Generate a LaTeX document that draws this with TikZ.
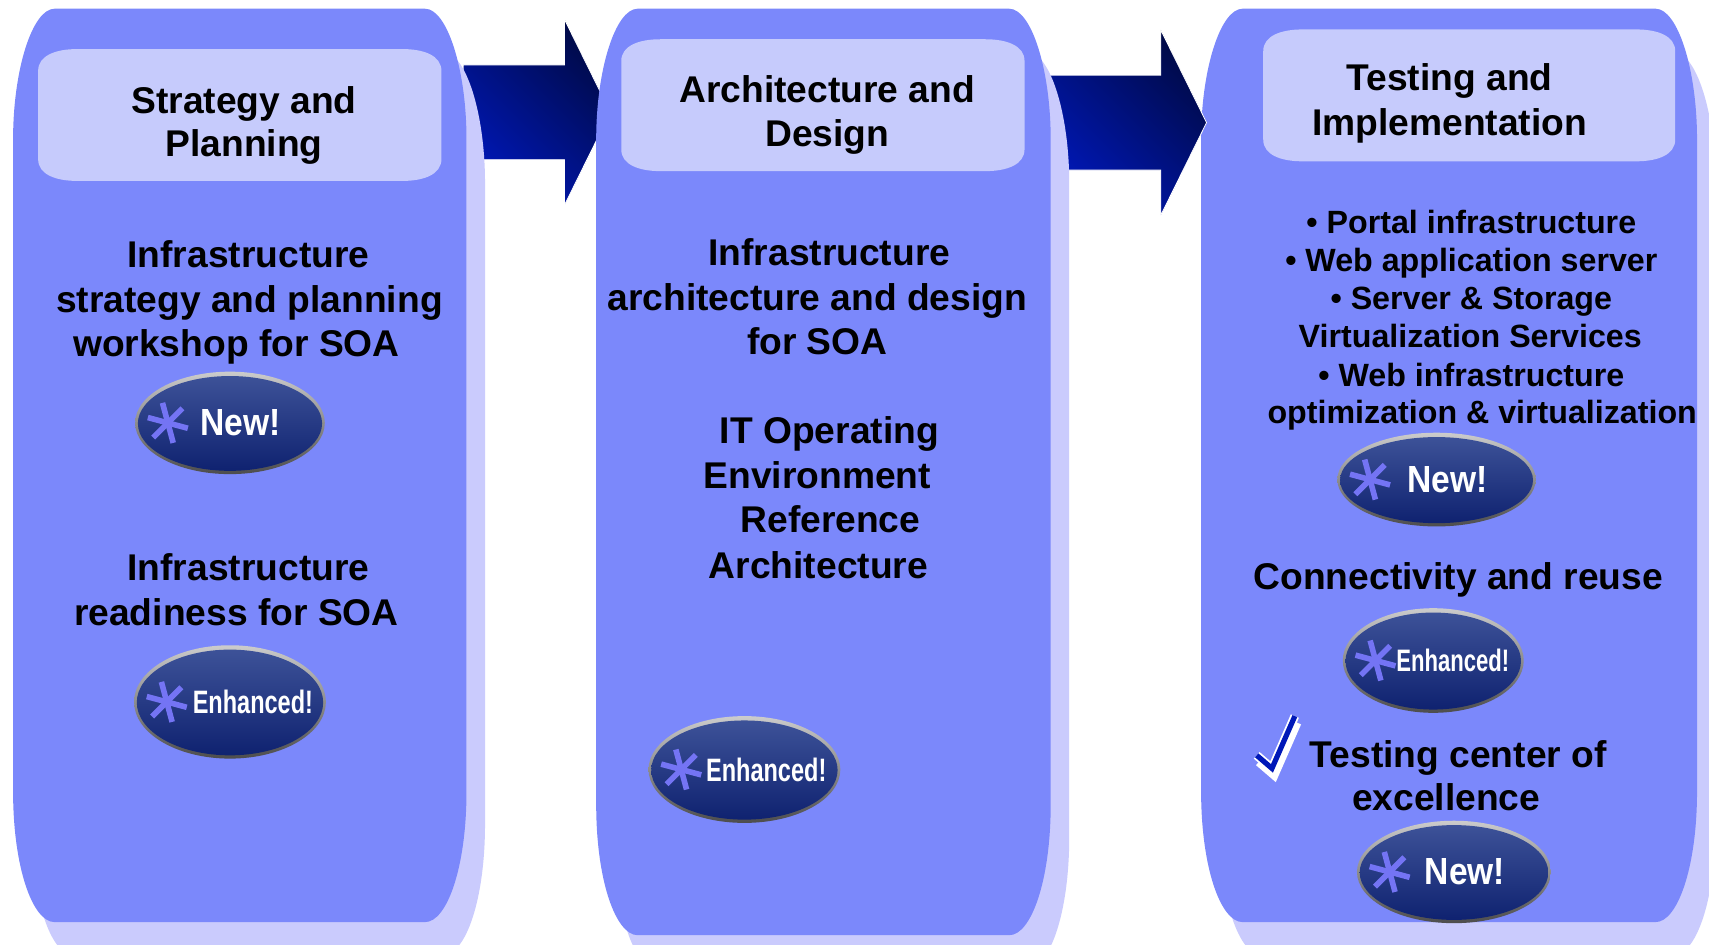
\documentclass[tikz,border=0pt]{standalone}
\usepackage{fontspec}
\setmainfont{Liberation Sans}
\usetikzlibrary{calc}
\definecolor{panelblue}{HTML}{7B88FB}
\definecolor{shadowblue}{HTML}{CACBFD}
\definecolor{headblue}{HTML}{C6CBFC}
\definecolor{arrowlight}{HTML}{0018B8}
\definecolor{arrowdark}{HTML}{000A48}
\definecolor{badgetop}{HTML}{3D5298}
\definecolor{badgebot}{HTML}{0F2270}
\definecolor{starblue}{HTML}{7474F4}
\newcommand\archpath[4]{(#1,#2+120) .. controls (#1,#2+55) and (#1+18,#2) .. (#1+38,#2)
  -- (#3-38,#2) .. controls (#3-18,#2) and (#3,#2+55) .. (#3,#2+120)
  -- (#3,#4-120) .. controls (#3,#4-50) and (#3-18,#4) .. (#3-38,#4)
  -- (#1+38,#4) .. controls (#1+18,#4) and (#1,#4-50) .. (#1,#4-120) -- cycle}
\newcommand\headpath[4]{(#1,#2+20) .. controls (#1,#2+6) and (#1+16,#2) .. (#1+36,#2)
  -- (#3-36,#2) .. controls (#3-16,#2) and (#3,#2+6) .. (#3,#2+20)
  -- (#3,#4-20) .. controls (#3,#4-6) and (#3-16,#4) .. (#3-36,#4)
  -- (#1+36,#4) .. controls (#1+16,#4) and (#1,#4-6) .. (#1,#4-20) -- cycle}
\newcommand\blockarrow[4]{(#1,#3-43.5) -- (#2,#3-43.5) -- (#2,#3-85) -- (#4,#3) -- (#2,#3+85) -- (#2,#3+43.5) -- (#1,#3+43.5) -- cycle}
\tikzset{
  lab/.style={font=\bfseries\fontsize{18.6}{22}\selectfont,text=black,inner sep=0pt,anchor=base,xshift=0.5pt},
  sublab/.style={font=\bfseries\fontsize{16.1}{19}\selectfont,text=black,inner sep=0pt,anchor=base,xshift=0.5pt},
  arrowshade/.style={left color=arrowdark,right color=arrowlight,shading angle=-45,draw=white,line width=0.4pt},
  badgewhite/.style={font=\bfseries\fontsize{#1}{#1}\selectfont,text=white,inner sep=0pt}
}
% #1 name, #2 x, #3 y, #4 rx, #5 ry, #6 label, #7 label x offset, #8 font size, #9 x stretch
\newcommand\badge[9]{%
  \shade[top color=black!20,bottom color=black!70] (#2,#3) ellipse[x radius=#4,y radius=#5];
  \shade[top color=badgetop,bottom color=badgebot] (#2,#3+0.5) ellipse[x radius=#4-2.5,y radius=#5-3.5];
  \foreach \a in {0,60,120}{
    \draw[starblue,line width=2.8pt] ($(#2-#4+30,#3)+(\a+15:19)$) -- ($(#2-#4+30,#3)+(\a+195:19)$);
  }
  \node[badgewhite=#8] (#1) at (#2+#7,#3) {\scalebox{#9}[1.35]{#6}};
}
\begin{document}
\begin{tikzpicture}[x=0.545pt,y=-0.545pt]
\useasboundingbox[fill=white] (0,0) rectangle (1568,867);
\begin{scope}
\clip (0,0) rectangle (1568,867);
% third panel
\fill[shadowblue] \archpath{1119}{48}{1574}{876};
\fill[panelblue] \archpath{1102}{8}{1557}{846};
% arrows
\shade[arrowshade] \blockarrow{960}{1065}{112.5}{1107};
\shade[arrowshade] \blockarrow{425}{518}{103}{560};
% second panel
\fill[shadowblue] \archpath{564}{48}{981}{888};
\fill[panelblue] \archpath{547}{8}{964}{858};
% first panel
\fill[shadowblue] \archpath{29}{48}{445}{876};
\fill[panelblue] \archpath{12}{8}{428}{846};
\end{scope}
% header boxes
\fill[headblue] \headpath{35}{45}{405}{166};
\fill[headblue] \headpath{570}{36}{940}{157};
\fill[headblue] \headpath{1159}{27}{1537}{148};
% header texts
\node[lab] (h1a) at (223,104) {Strategy and};
\node[lab] (h1b) at (223,144) {Planning};
\node[lab] (h2a) at (758,94) {Architecture and};
\node[lab] (h2b) at (758,134) {Design};
\node[lab] (h3a) at (1329,83) {Testing and};
\node[lab] (h3b) at (1329,124) {Implementation};
% column one
\node[lab] (a1) at (227,245) {Infrastructure};
\node[lab] (a2) at (228,287) {strategy and planning};
\node[lab] (a3) at (216,327) {workshop for SOA};
\node[lab] (a4) at (227,533) {Infrastructure};
\node[lab] (a5) at (216,574) {readiness for SOA};
% column two
\node[lab] (b1) at (760,244) {Infrastructure};
\node[lab] (b2) at (749,285) {architecture and design};
\node[lab] (b3) at (749,325) {for SOA};
\node[lab] (b4) at (760,407) {IT Operating};
\node[lab] (b5) at (749,448) {Environment};
\node[lab] (b6) at (761,489) {Reference};
\node[lab] (b7) at (750,531) {Architecture};
% column three
\node[sublab] (c1) at (1349,214) {• Portal infrastructure};
\node[sublab] (c2) at (1349,249) {• Web application server};
\node[sublab] (c3) at (1349,284) {• Server \& Storage};
\node[sublab] (c4) at (1348,319) {Virtualization Services};
\node[sublab] (c5) at (1349,355) {• Web infrastructure};
\node[sublab] (c6) at (1359,389) {optimization \& virtualization};
\node[lab] (c7) at (1337,541) {Connectivity and reuse};
\node[lab] (c8) at (1337,704) {Testing center of};
\node[lab] (c9) at (1326,744) {excellence};
% check mark
\coordinate (ck1) at (1153,693);
\coordinate (ck2) at (1167,705);
\coordinate (ck3) at (1188,657);
\draw[white,line width=4.4pt,miter limit=10] ($(ck1)+(2,6)$) -- ($(ck2)+(2,6)$) -- ($(ck3)+(2,6)$);
\draw[white,line width=4.4pt,miter limit=10] (ck1) -- (ck2) -- (ck3);
\draw[arrowlight,line width=2.6pt,miter limit=10] (ck1) -- (ck2) -- (ck3);
% badges
\badge{n1}{211}{388}{87}{47}{New!}{10}{14}{1.2}
\badge{e1}{211}{644}{88}{52}{Enhanced!}{21}{12}{.98}
\badge{e2}{683}{706}{88}{49}{Enhanced!}{20}{12}{.98}
\badge{n2}{1318}{440}{91}{43}{New!}{10}{14}{1.2}
\badge{e3}{1315}{606}{83}{48}{Enhanced!}{18}{11.5}{.96}
\badge{n3}{1334}{800}{89}{47}{New!}{10}{14}{1.2}
\end{tikzpicture}
\end{document}
